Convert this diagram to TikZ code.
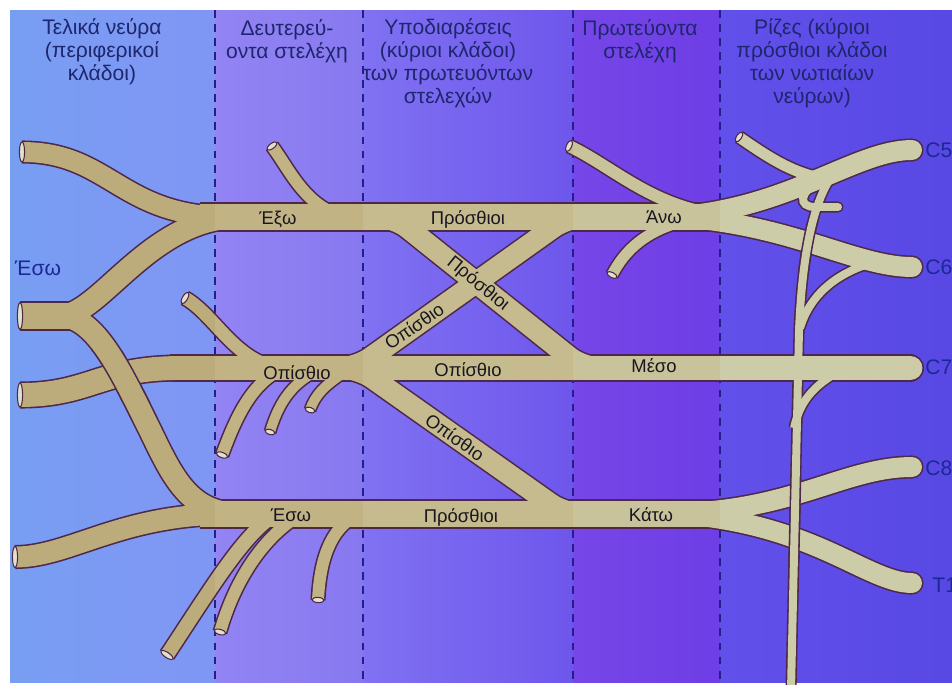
\documentclass[tikz,border=0pt]{standalone}
\usepackage{fontspec}
\setmainfont{Liberation Sans}

\definecolor{bgA1}{RGB}{120,158,242}
\definecolor{bgA2}{RGB}{128,150,244}
\definecolor{bgB1}{RGB}{146,132,243}
\definecolor{bgB2}{RGB}{136,120,240}
\definecolor{bgC1}{RGB}{128,114,242}
\definecolor{bgC2}{RGB}{110,86,236}
\definecolor{bgD1}{RGB}{118,70,232}
\definecolor{bgD2}{RGB}{110,62,230}
\definecolor{bgE1}{RGB}{98,80,234}
\definecolor{bgE2}{RGB}{88,72,228}
\definecolor{nerveA}{RGB}{188,172,124}
\definecolor{nerveB}{RGB}{193,179,132}
\definecolor{nerveC}{RGB}{197,187,142}
\definecolor{nerveD}{RGB}{200,195,154}
\definecolor{nerveE}{RGB}{204,204,168}
\definecolor{nerveline}{RGB}{78,40,72}
\definecolor{headtext}{RGB}{30,38,110}
\definecolor{roottext}{RGB}{28,40,150}
\definecolor{labeltext}{RGB}{25,22,32}
\definecolor{divline}{RGB}{36,30,140}

\def\px{0.5669pt}
\def\edge{0pt}
\tikzset{
  nw/.style = {line width=#1*\px+\edge},
  divider/.style = {draw=divline, line width=1.1pt, dash pattern=on 4.5pt off 3.5pt},
  cutface/.style = {draw=nerveline, fill=nerveE!60!white, line width=0.6pt},
  hdr/.style = {font=\fontsize{12}{13}\selectfont, text=headtext, align=center, inner sep=0pt},
  lbl/.style = {font=\fontsize{10.5}{12}\selectfont, text=labeltext, inner sep=0pt},
  rootlbl/.style = {font=\fontsize{12}{13}\selectfont, text=roottext, inner sep=0pt, anchor=west}
}

% pieces that cross over other nerves
\newcommand{\medialroot}[1]{%
  \draw[#1,nw=22] (60,316) .. controls (95,316) and (120,370) .. (145,420)
    .. controls (170,470) and (185,514) .. (240,514);}
\newcommand{\longthoracic}[1]{%
  \draw[#1,nw=8] (835,172) .. controls (812,200) and (802,260) .. (799,330) -- (791,690);}

\newcommand{\nerves}[1]{%
  % cords, divisions, trunks
  \draw[#1,nw=27] (200,217) -- (740,217);
  \draw[#1,nw=25] (170,368) -- (600,368);
  \draw[#1,nw=26] (200,514) -- (740,514);
  \draw[#1,nw=21,rounded corners=10pt] (330,217) -- (394,217) -- (583,368) -- (640,368);
  \draw[#1,nw=21,rounded corners=10pt] (620,217) -- (568,217) -- (356,368) -- (300,368);
  \draw[#1,nw=21,rounded corners=10pt] (300,368) -- (358,368) -- (565,514) -- (620,514);
  % roots
  \draw[#1,nw=20,line cap=round] (912,150) .. controls (860,150) and (800,200) .. (700,214);
  \draw[#1,nw=20,line cap=round] (912,267) .. controls (860,267) and (800,230) .. (700,219);
  \draw[#1,nw=25,line cap=round] (580,368) -- (910,368);
  \draw[#1,nw=20,line cap=round] (912,467) .. controls (850,467) and (800,505) .. (700,512);
  \draw[#1,nw=20,line cap=round] (912,583) .. controls (870,583) and (820,530) .. (700,516);
  % terminal nerves
  \draw[#1,nw=20] (22,152) .. controls (110,152) and (120,217) .. (230,217);
  \draw[#1,nw=27] (20,316) -- (75,316);
  \draw[#1,nw=22] (60,316) .. controls (100,316) and (150,217) .. (240,217);
  \medialroot{#1}
  \draw[#1,nw=24] (20,395) .. controls (90,395) and (100,368) .. (180,368);
  \draw[#1,nw=21] (15,557) .. controls (70,557) and (120,514) .. (230,514);
  % side branches
  \draw[#1,nw=12] (272,146) .. controls (290,170) and (305,207) .. (345,217);
  \draw[#1,nw=13] (185,298) .. controls (215,315) and (235,362) .. (280,368);
  \draw[#1,nw=12] (222,455) .. controls (235,420) and (250,385) .. (280,370);
  \draw[#1,nw=10] (270,432) .. controls (278,405) and (290,385) .. (315,372);
  \draw[#1,nw=10] (310,410) .. controls (315,395) and (325,385) .. (345,372);
  \draw[#1,nw=14] (167,655) .. controls (210,590) and (240,540) .. (270,518);
  \draw[#1,nw=12] (220,632) .. controls (235,580) and (262,540) .. (295,518);
  \draw[#1,nw=12] (318,600) .. controls (320,560) and (330,530) .. (355,516);
  \draw[#1,nw=12] (569,146) .. controls (610,165) and (650,205) .. (715,214);
  \draw[#1,nw=11] (612,275) .. controls (625,250) and (645,232) .. (680,222);
  \draw[#1,nw=11] (739,137) .. controls (765,155) and (790,172) .. (820,178);
  \draw[#1,nw=8,line cap=round] (822,180) .. controls (798,192) and (798,207) .. (815,207) -- (838,207);
  \longthoracic{#1}
  \draw[#1,nw=8] (868,264) .. controls (835,275) and (810,295) .. (800,328);
  \draw[#1,nw=8] (838,372) .. controls (815,385) and (800,400) .. (794,428);
}

\newcommand{\cutend}[3]{\draw[cutface,shift={(#1)},rotate=#2] (0,0) ellipse (2.6 and #3);}

\begin{document}
\begin{tikzpicture}[x=0.02cm, y=-0.02cm]
  \useasboundingbox (0,0) rectangle (952,684);
  \fill[white] (0,0) rectangle (952,684);
  \shade[left color=bgA1, right color=bgA2] (10,10) rectangle (215,682);
  \shade[left color=bgB1, right color=bgB2] (215,10) rectangle (363,682);
  \shade[left color=bgC1, right color=bgC2] (363,10) rectangle (573,682);
  \shade[left color=bgD1, right color=bgD2] (573,10) rectangle (720,682);
  \shade[left color=bgE1, right color=bgE2] (720,10) rectangle (952,682);
  \foreach \x in {215,363,573,720}
    \draw[divider] (\x,10) -- (\x,684);

  % outlines first, then the fill column by column
  \begin{scope}\def\edge{1.8pt}\nerves{draw=nerveline}\end{scope}
  \foreach \xa/\xb/\ncol in {0/215/nerveA, 215/363/nerveB, 363/573/nerveC, 573/720/nerveD, 720/960/nerveE}{
    \begin{scope}
      \clip (\xa,0) rectangle (\xb,700);
      \nerves{draw=\ncol}
    \end{scope}
  }

  % crossings on top
  \begin{scope}
    \clip (85,350) rectangle (165,402);
    {\def\edge{1.8pt}\medialroot{draw=nerveline}}
    \medialroot{draw=nerveA}
  \end{scope}
  \begin{scope}
    \clip (780,222) rectangle (840,270);
    {\def\edge{1.8pt}\longthoracic{draw=nerveline}}
    \longthoracic{draw=nerveE}
  \end{scope}
  \begin{scope}
    \clip (780,478) rectangle (805,562);
    {\def\edge{1.8pt}\longthoracic{draw=nerveline}}
    \longthoracic{draw=nerveE}
  \end{scope}

  % cut ends
  \cutend{22,152}{0}{10}
  \cutend{20,316}{0}{13.5}
  \cutend{20,395}{0}{12}
  \cutend{15,557}{0}{10.5}
  \cutend{272,146}{-53}{6}
  \cutend{185,298}{-30}{6.5}
  \cutend{222,455}{70}{6}
  \cutend{270,432}{73}{5}
  \cutend{310,410}{72}{5}
  \cutend{167,655}{56}{7}
  \cutend{220,632}{74}{6}
  \cutend{318,600}{87}{6}
  \cutend{569,146}{-25}{6}
  \cutend{612,275}{62}{5.5}
  \cutend{739,137}{-35}{5.5}

  % column headings
  \node[hdr] (hterm) at (102,52) {Τελικά νεύρα\\(περιφερικοί\\κλάδοι)};
  \node[hdr] (hsec) at (287,41) {Δευτερεύ-\\οντα στελέχη};
  \node[hdr] (hsub) at (448,63) {Υποδιαρέσεις\\(κύριοι κλάδοι)\\των πρωτευόντων\\στελεχών};
  \node[hdr] (hprim) at (640,41) {Πρωτεύοντα\\στελέχη};
  \node[hdr] (hroot) at (812,63) {Ρίζες (κύριοι\\πρόσθιοι κλάδοι\\των νωτιαίων\\νεύρων)};

  % labels on the nerves
  \node[lbl] (lat) at (278,219) {Έξω};
  \node[lbl] (antup) at (468,219) {Πρόσθιοι};
  \node[lbl] (upper) at (664,217) {Άνω};
  \node[lbl, rotate=-39] (antmid) at (478,284) {Πρόσθιοι};
  \node[lbl, rotate=35] (postup) at (414,326) {Οπίσθιο};
  \node[lbl] (post) at (297,373) {Οπίσθιο};
  \node[lbl] (postmid) at (468,370) {Οπίσθιο};
  \node[lbl] (middle) at (654,366) {Μέσο};
  \node[lbl, rotate=-35] (postlow) at (455,437) {Οπίσθιο};
  \node[lbl] (med) at (291,515) {Έσω};
  \node[lbl] (antlow) at (461,517) {Πρόσθιοι};
  \node[lbl] (lower) at (651,515) {Κάτω};
  \node[font=\fontsize{12}{13}\selectfont, text=roottext, inner sep=0pt] (medside) at (38,268) {Έσω};

  % root names
  \node[rootlbl] (c5) at (925,150) {C5};
  \node[rootlbl] (c6) at (925,267) {C6};
  \node[rootlbl] (c7) at (925,367) {C7};
  \node[rootlbl] (c8) at (925,468) {C8};
  \node[rootlbl] (t1) at (932,585) {T1};
\end{tikzpicture}
\end{document}
